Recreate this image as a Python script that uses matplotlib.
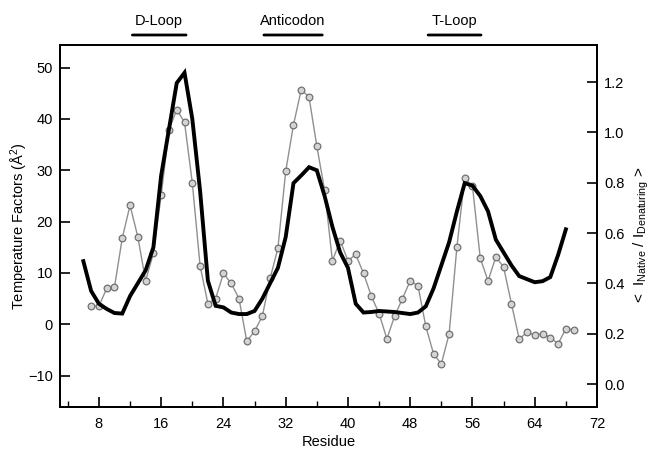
import matplotlib
matplotlib.use("Agg")
import matplotlib.pyplot as plt
from matplotlib.ticker import MultipleLocator

plt.rcParams['font.family'] = ['Liberation Sans', 'DejaVu Sans']
plt.rcParams['mathtext.fontset'] = 'custom'
plt.rcParams['mathtext.rm'] = 'Liberation Sans'
plt.rcParams['mathtext.it'] = 'Liberation Sans'

# temperature factors (thick black line), residues 6..68
temp_residues = list(range(6, 69))
temp_factors = [12.3, 6.5, 4.0, 3.0, 2.2, 2.1, 5.5, 8.0, 10.5, 15.0,
                29.0, 38.0, 47.0, 49.0, 40.0, 26.0, 8.5, 3.6, 3.3, 2.3,
                2.0, 2.0, 2.6, 5.0, 8.0, 11.0, 17.0, 27.5, 29.0, 30.6,
                30.0, 25.0, 19.0, 14.0, 11.0, 4.0, 2.3, 2.4, 2.6, 2.5,
                2.4, 2.2, 2.0, 2.3, 3.5, 7.0, 11.5, 16.0, 22.0, 27.5,
                27.0, 25.0, 22.0, 16.5, 14.0, 11.5, 9.4, 8.8, 8.2, 8.4,
                9.2, 13.5, 18.5]

# <I native / I denaturing> (grey circles), residues 7..69
ratio_residues = list(range(7, 70))
ratio = [0.31, 0.31, 0.38, 0.385, 0.58, 0.71, 0.585, 0.41, 0.52, 0.75,
         1.01, 1.09, 1.04, 0.80, 0.47, 0.32, 0.34, 0.44, 0.40, 0.34,
         0.17, 0.21, 0.27, 0.42, 0.54, 0.845, 1.03, 1.17, 1.14, 0.945,
         0.77, 0.49, 0.57, 0.49, 0.515, 0.44, 0.35, 0.28, 0.18, 0.27,
         0.34, 0.41, 0.39, 0.23, 0.12, 0.08, 0.20, 0.545, 0.82, 0.785,
         0.50, 0.41, 0.505, 0.465, 0.32, 0.18, 0.205, 0.195, 0.20, 0.185,
         0.16, 0.22, 0.215]

regions = ['D-Loop', 'Anticodon', 'T-Loop']
region_spans = [(12.3, 19.2), (29.2, 36.7), (50.3, 57.1)]

fig = plt.figure(figsize=(6.52, 4.49), dpi=100)
ax = fig.add_axes([60 / 652, 1 - 407 / 449, 537 / 652, 362 / 449])
ax2 = ax.twinx()

ax2.plot(ratio_residues, ratio, color='#909090', lw=1.0, marker='o',
         ms=4.8, mfc='#d4d4d4', mec='#707070', mew=0.9)
ax.plot(temp_residues, temp_factors, color='black', lw=2.8,
        solid_joinstyle='miter')

ax.set_zorder(ax2.get_zorder() + 1)
ax.patch.set_visible(False)

ax.set_xlim(3, 72)
ax.set_ylim(-16.1, 54.4)
ax2.set_ylim(-0.091, 1.347)

ax.set_xticks(range(8, 73, 8))
ax.xaxis.set_minor_locator(MultipleLocator(4))
ax.yaxis.set_major_locator(MultipleLocator(10))
ax2.set_yticks([0.0, 0.2, 0.4, 0.6, 0.8, 1.0, 1.2])
ax2.set_yticklabels(['0.0', '0.2', '0.4', '0.6', '0.8', '1.0', '1.2'])

ax.tick_params(axis='both', which='major', direction='in', length=7,
               width=1.2, labelsize=10.5)
ax.tick_params(axis='x', which='major', pad=7)
ax.tick_params(axis='y', which='major', pad=5)
ax.tick_params(axis='x', which='minor', direction='in', length=4, width=1.0)
ax2.tick_params(axis='y', direction='in', length=7, width=1.2,
                labelsize=10.5, pad=5)
ax.tick_params(top=False, right=False)

for a in (ax, ax2):
    for s in a.spines.values():
        s.set_linewidth(1.4)

ax.set_xlabel('Residue', fontsize=10.5, labelpad=3)
ax.set_ylabel('Temperature Factors (Å$^2$)', fontsize=10.5)
ax.yaxis.set_label_coords(-0.055, 0.5)
fig.text(641 / 652, 1 - 235 / 449,
         '<  I$_{\\mathrm{Native}}$ / I$_{\\mathrm{Denaturing}}$ >',
         fontsize=11, rotation=90, ha='center', va='center')

for name, (x0, x1) in zip(regions, region_spans):
    ax.annotate(name, xy=((x0 + x1) / 2, 428), xycoords=('data', 'figure pixels'),
                ha='center', va='center', fontsize=10.5, annotation_clip=False)
    ax.annotate('', xy=(x0, 414), xytext=(x1, 414),
                xycoords=('data', 'figure pixels'),
                textcoords=('data', 'figure pixels'),
                arrowprops=dict(arrowstyle='-', lw=2, color='black',
                                shrinkA=0, shrinkB=0),
                annotation_clip=False)

fig.savefig('out.png', dpi=100)
